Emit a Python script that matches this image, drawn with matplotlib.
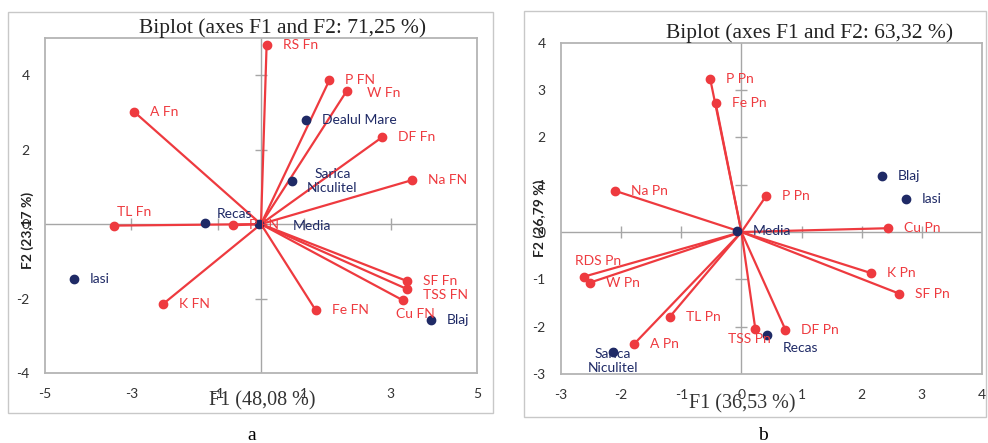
import matplotlib.pyplot as plt
from matplotlib.patches import Rectangle

RED = "#EE3A3F"
BLUE = "#1F2A66"
GRAY = "#A6A6A6"

# panel a: variables (red vectors) and sites (blue points)
a_var_names = ["RS Fn", "P FN", "W Fn", "A Fn", "DF Fn", "Na FN", "TL Fn", "P FN",
               "SF Fn", "TSS FN", "Cu FN", "Fe FN", "K FN"]
a_var_x = [0.13, 1.58, 1.98, -2.93, 2.81, 3.49, -3.40, -0.64, 3.38, 3.37, 3.29, 1.27, -2.26]
a_var_y = [4.82, 3.86, 3.57, 3.01, 2.34, 1.18, -0.04, -0.03, -1.53, -1.74, -2.05, -2.32, -2.14]
a_site_names = ["Dealul Mare", "Sarica\nNiculitel", "Recas", "Media", "Iasi", "Blaj"]
a_site_x = [1.04, 0.72, -1.30, -0.04, -4.33, 3.93]
a_site_y = [2.79, 1.16, 0.02, 0.00, -1.47, -2.57]

# panel b
b_var_names = ["P Pn", "Fe Pn", "Na Pn", "P Pn", "Cu Pn", "RDS Pn", "W Pn", "K Pn",
               "SF Pn", "TL Pn", "TSS Pn", "DF Pn", "A Pn"]
b_var_x = [-0.52, -0.43, -2.10, 0.41, 2.43, -2.61, -2.52, 2.16, 2.62, -1.19, 0.23, 0.73, -1.78]
b_var_y = [3.24, 2.73, 0.87, 0.76, 0.08, -0.94, -1.07, -0.87, -1.30, -1.79, -2.04, -2.06, -2.36]
b_site_names = ["Blaj", "Iasi", "Media", "Recas", "Sarica\nNiculitel"]
b_site_x = [2.34, 2.74, -0.08, 0.42, -2.14]
b_site_y = [1.19, 0.70, 0.02, -2.18, -2.54]

# label offsets in pixels (default: right of point)
a_offsets = {"TL Fn": (20, 14, "center"), "Recas": (12, 9, "left"), "Media": (33, -2, "left"),
             "TSS FN": (16, -6, "left"), "Cu FN": (-7, -14, "left"), "W Fn": (20, -2, "left"),
             "Sarica\nNiculitel": (15, 0, "left")}
b_offsets = {"RDS Pn": (14, 16, "center"), "TSS Pn": (-6, -10, "center"),
             "Recas": (34, -13, "center"), "Sarica\nNiculitel": (0, -9, "center")}

plt.rcParams["font.family"] = ["Lato", "DejaVu Sans"]
plt.rcParams["axes.unicode_minus"] = False
fig = plt.figure(figsize=(9.88, 4.43), dpi=100)

# outer frames
fig.patches.append(Rectangle((8 / 988, 1 - 413 / 443), 485 / 988, 401 / 443,
                             transform=fig.transFigure, fill=False, ec="#C8C8C8", lw=1))
fig.patches.append(Rectangle((524 / 988, 1 - 417 / 443), 462 / 988, 406 / 443,
                             transform=fig.transFigure, fill=False, ec="#C8C8C8", lw=1))


def panel(rect, xlim, ylim, xt, yt, xcross, ycross, vn, vx, vy, sn, sx, sy, offs):
    ax = fig.add_axes(rect)
    ax.set_xlim(*xlim)
    ax.set_ylim(*ylim)
    ax.set_xticks(xt)
    ax.set_yticks(yt)
    ax.tick_params(length=0, pad=11, labelsize=10, colors="#333333")
    for s in ax.spines.values():
        s.set_color("#B4B4B4")
        s.set_linewidth(1.3)
    ax.axhline(0, color=GRAY, lw=1, zorder=1)
    ax.axvline(0, color=GRAY, lw=1, zorder=1)
    ax.plot(xcross, [0] * len(xcross), ls="none", marker="|", ms=8, color=GRAY, mew=1, zorder=1)
    ax.plot([0] * len(ycross), ycross, ls="none", marker="_", ms=8, color=GRAY, mew=1, zorder=1)
    for n, x, y in zip(vn, vx, vy):
        ax.plot([0, x], [0, y], color=RED, lw=1.6, zorder=2)
    ax.plot(vx, vy, "o", color=RED, ms=6, zorder=3)
    ax.plot(sx, sy, "o", color=BLUE, ms=6, zorder=4)
    for names, xs, ys, c in ((vn, vx, vy, RED), (sn, sx, sy, BLUE)):
        for n, x, y in zip(names, xs, ys):
            dx, dy, ha = offs.get(n, (16, 0, "left"))
            ax.annotate(n, (x, y), xytext=(dx, dy), textcoords="offset pixels",
                        ha=ha, va="center", color=c, fontsize=10,
                        multialignment="center", zorder=5)
    return ax


panel([45 / 988, 1 - 373 / 443, 432 / 988, 335 / 443], (-5, 5), (-4, 5),
      [-5, -3, -1, 1, 3, 5], [-4, -2, 0, 2, 4], [-3, -1, 1, 3], [-2, 2, 4],
      a_var_names, a_var_x, a_var_y, a_site_names, a_site_x, a_site_y, a_offsets)
panel([561 / 988, 1 - 374 / 443, 421 / 988, 331.3 / 443], (-3, 4), (-3, 4),
      [-3, -2, -1, 0, 1, 2, 3, 4], [-3, -2, -1, 0, 1, 2, 3, 4], [-2, -1, 1, 2, 3], [-2, -1, 1, 2, 3],
      b_var_names, b_var_x, b_var_y, b_site_names, b_site_x, b_site_y, b_offsets)

serif = "Liberation Serif"
fig.text(283 / 988, 1 - 28 / 443, "Biplot (axes F1 and F2: 71,25 %)", family=serif,
         fontsize=15.5, ha="center", va="center", color="#222222")
fig.text(810 / 988, 1 - 33 / 443, "Biplot (axes F1 and F2: 63,32 %)", family=serif,
         fontsize=15.5, ha="center", va="center", color="#222222")
fig.text(262 / 988, 1 - 401 / 443, "F1 (48,08 %)", family=serif, fontsize=14.5,
         ha="center", va="center", color="#333333")
fig.text(742 / 988, 1 - 404 / 443, "F1 (36,53 %)", family=serif, fontsize=14.5,
         ha="center", va="center", color="#333333")
fig.text(28 / 988, 1 - 230 / 443, "F2 (23,17 %)", fontsize=10, weight="bold",
         rotation=90, ha="center", va="center", color="#222222")
fig.text(540 / 988, 1 - 218 / 443, "F2 (26,79 %)", fontsize=10, weight="bold",
         rotation=90, ha="center", va="center", color="#222222")
fig.text(252 / 988, 1 - 435 / 443, "a", family=serif, fontsize=14, ha="center", va="center")
fig.text(763 / 988, 1 - 435 / 443, "b", family=serif, fontsize=14, ha="center", va="center")

fig.savefig("out.png", dpi=100)
